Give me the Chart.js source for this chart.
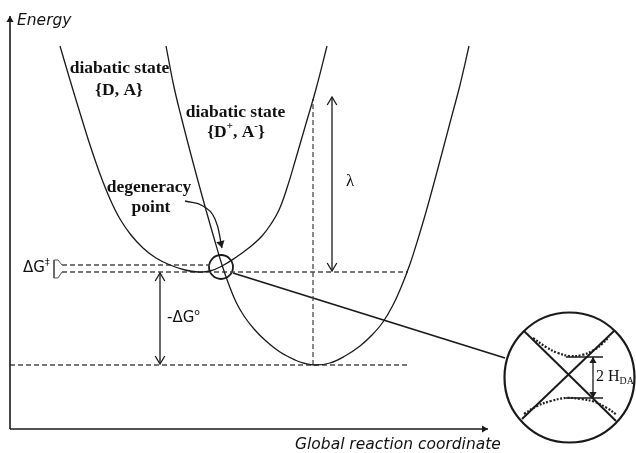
<!DOCTYPE html>
<html><head><meta charset="utf-8">
<script src="https://cdn.jsdelivr.net/npm/chart.js@4/dist/chart.umd.min.js"></script>
<style>html,body{margin:0;padding:0;background:#fff}canvas{display:block}</style>
</head><body>
<canvas id="c" width="636" height="453"></canvas>
<script>
// ---- values (Q = reaction coordinate, E = energy) ----
const stateDA_Q = [50,60,70,80,90,100,110,121,133,146,160,175,188,200,212,225,240,252,261,269,277,286,295,306,317];
const stateDA_E = [383,349,316,284,255,230,210,194,181,171,164,159,157,158,163,171,182,193,205,219,241,271,302,340,383];
const stateCT_Q = [156,164,172,180,188,196,204,212,219,226,234,244,256,270,285,295,305,320,335,350,362,373,383,392,400,408,416,424,432,441,450,459];
const stateCT_E = [383,342,309,278,248,219,191,164,144,127,113,100,88,77,69,65.5,64,66,73,83,94,107,124,144,165,190,217,246,276,310,344,383];

const E_cross = 164, E_minDA = 157, E_minCT = 64, E_lambdaTop = 330;
const Q_cross = 211, Q_minCT = 303, Q_lambda = 322, Q_dG0 = 150;
const Q_dashStart = 52, Q_dashUpperEnd = 200, Q_dashLowerEnd = 398, Q_dashBottomEnd = 400;
const Q_axisEnd = 478, E_axisEnd = 413;

const degArrow_Q = [175,193,205,212];
const degArrow_E = [228,223,210,181];
const bracket_Q = [52,48,44,44,48,52];
const bracket_E = [164,169,169,151,151,157];

const link_Q = [223,495], link_E = [156,71];
const inset_Q = 559.5, inset_E = 51.5;
const insetX1_Q = [514,606], insetX1_E = [98,8];
const insetX2_Q = [604,512], insetX2_E = [98,10];
const upperAdi_Q = [523,536,548,560,572,584,592,599];
const upperAdi_E = [91,82,76,73,74,79,85,92];
const lowerAdi_Q = [514,527,541,556,571,585,597,607];
const lowerAdi_E = [15,23,28,31,30,27,21,14];
const hda_Q = [556,593], hda_upperE = 72, hda_lowerE = 31, hda_arrowQ = 583;

const zip = (qs, es) => qs.map((q,i)=>({x:q, y:es[i]}));
const seg = (q1,e1,q2,e2) => [{x:q1,y:e1},{x:q2,y:e2}];

const INK = '#1a1a1a', DASH = '#4a4a4a';
const solid = (data, w, extra) => Object.assign({data, showLine:true, pointRadius:0, borderColor:INK, borderWidth:w, fill:false, clip:false, tension:0}, extra||{});
const dashed = (data) => ({data, showLine:true, pointRadius:0, borderColor:DASH, borderWidth:1.3, borderDash:[5,3], fill:false, clip:false});

const datasets = [
  solid(seg(0,0,0,E_axisEnd), 1.6, {arrowEnd:'filled', arrowSize:6}),
  solid(seg(0,0,Q_axisEnd,0), 1.6, {arrowEnd:'filled', arrowSize:6}),
  solid(zip(stateDA_Q, stateDA_E), 1.3, {tension:0.4}),
  solid(zip(stateCT_Q, stateCT_E), 1.3, {tension:0.4}),
  dashed(seg(Q_dashStart,E_cross,Q_dashUpperEnd,E_cross)),
  dashed(seg(Q_dashStart,E_minDA,Q_dashLowerEnd,E_minDA)),
  dashed(seg(0,E_minCT,Q_dashBottomEnd,E_minCT)),
  dashed(seg(Q_minCT,E_minCT,Q_minCT,E_lambdaTop)),
  Object.assign(solid(zip(bracket_Q, bracket_E), 1.0), {borderColor:'#555'}),
  solid(seg(Q_lambda,E_minDA+1,Q_lambda,E_lambdaTop+2), 1.3, {arrowStart:'open', arrowEnd:'open', arrowSize:8}),
  solid(seg(Q_dG0,E_minDA-1,Q_dG0,E_minCT+1), 1.3, {arrowStart:'open', arrowEnd:'open', arrowSize:8}),
  solid(zip(degArrow_Q, degArrow_E), 1.3, {tension:0.45, arrowEnd:'filled', arrowSize:7}),
  {data:[{x:Q_cross,y:E_cross-2}], showLine:false, pointRadius:12, pointBorderWidth:1.8, pointBorderColor:INK, pointBackgroundColor:'rgba(0,0,0,0)', clip:false},
  solid(zip(link_Q, link_E), 1.8),
  {data:[{x:inset_Q,y:inset_E}], showLine:false, pointRadius:65, pointBorderWidth:2.2, pointBorderColor:INK, pointBackgroundColor:'rgba(0,0,0,0)', clip:false},
  solid(zip(insetX1_Q, insetX1_E), 2.0),
  solid(zip(insetX2_Q, insetX2_E), 2.0),
  Object.assign(solid(zip(upperAdi_Q, upperAdi_E), 2.2, {tension:0.4}), {borderDash:[2,1.6], borderColor:'#222'}),
  Object.assign(solid(zip(lowerAdi_Q, lowerAdi_E), 2.2, {tension:0.4}), {borderDash:[2,1.6], borderColor:'#222'}),
  solid(seg(hda_Q[0],hda_upperE,hda_Q[1],hda_upperE), 1.6),
  solid(seg(hda_Q[0],hda_lowerE,hda_Q[1],hda_lowerE), 1.6),
  solid(seg(hda_arrowQ,(hda_upperE+hda_lowerE)/2,hda_arrowQ,hda_upperE), 1.3, {arrowEnd:'filled', arrowSize:6}),
  solid(seg(hda_arrowQ,(hda_upperE+hda_lowerE)/2,hda_arrowQ,hda_lowerE), 1.3, {arrowEnd:'filled', arrowSize:6})
];

// text annotations (anchor in data units)
const SERIF_B = 'bold 17.5px "Liberation Serif", "Times New Roman", serif';
const SANS_I = 'italic 15.5px "DejaVu Sans", Verdana, sans-serif';
const SANS = '15px "DejaVu Sans", Verdana, sans-serif';
const annotations = [
  {q:7, e:408, align:'left', font:SANS_I, segs:[{t:'Energy'}]},
  {q:285, e:-16, align:'left', font:SANS_I, segs:[{t:'Global reaction coordinate'}]},
  {q:13, e:161, align:'left', font:SANS, segs:[{t:'ΔG'},{t:'‡', sup:true}]},
  {q:157, e:111, align:'left', font:SANS, segs:[{t:'-ΔG'},{t:'o', sup:true}]},
  {q:340, e:247, align:'center', font:'17px "Liberation Serif", serif', segs:[{t:'λ'}]},
  {q:109.5, e:361, align:'center', font:SERIF_B, segs:[{t:'diabatic state'}]},
  {q:109, e:339, align:'center', font:SERIF_B, segs:[{t:'{D, A}'}]},
  {q:225.5, e:317, align:'center', font:SERIF_B, segs:[{t:'diabatic state'}]},
  {q:226, e:297, align:'center', font:SERIF_B, segs:[{t:'{D'},{t:'+',sup:true},{t:', A'},{t:'-',sup:true},{t:'}'}]},
  {q:139, e:242, align:'center', font:SERIF_B, segs:[{t:'degeneracy'}]},
  {q:141, e:222, align:'center', font:SERIF_B, segs:[{t:'point'}]},
  {q:586, e:52, align:'left', font:'16px "Liberation Serif", serif', segs:[{t:'2 H'},{t:'DA', sub:true}]}
];

function head(ctx, from, to, kind, color, size){
  const ang = Math.atan2(to.y-from.y, to.x-from.x);
  const L = size, W = size*0.6;
  ctx.save();
  ctx.strokeStyle = color; ctx.fillStyle = color; ctx.lineWidth = 1.3;
  ctx.translate(to.x, to.y); ctx.rotate(ang);
  ctx.beginPath(); ctx.moveTo(-L,-W); ctx.lineTo(0,0); ctx.lineTo(-L,W);
  if (kind === 'filled'){ ctx.closePath(); ctx.fill(); } else ctx.stroke();
  ctx.restore();
}

const arrowPlugin = {
  id:'arrows',
  afterDatasetsDraw(chart){
    const ctx = chart.ctx;
    chart.data.datasets.forEach((ds,i)=>{
      if (!ds.arrowEnd && !ds.arrowStart) return;
      const pts = chart.getDatasetMeta(i).data;
      const n = pts.length;
      if (ds.arrowEnd){
        const last = pts[n-1];
        const from = (ds.tension && last.cp1x !== undefined) ? {x:last.cp1x, y:last.cp1y} : pts[n-2];
        head(ctx, from, last, ds.arrowEnd, ds.borderColor, ds.arrowSize);
      }
      if (ds.arrowStart){
        const first = pts[0];
        const from = (ds.tension && first.cp2x !== undefined) ? {x:first.cp2x, y:first.cp2y} : pts[1];
        head(ctx, from, first, ds.arrowStart, ds.borderColor, ds.arrowSize);
      }
    });
  }
};

const textPlugin = {
  id:'texts',
  afterDatasetsDraw(chart){
    const ctx = chart.ctx, xs = chart.scales.x, ys = chart.scales.y;
    annotations.forEach(a=>{
      const px = xs.getPixelForValue(a.q), py = ys.getPixelForValue(a.e);
      ctx.save();
      ctx.fillStyle = '#111';
      ctx.textBaseline = 'middle';
      const m = /(\d+(?:\.\d+)?)px/.exec(a.font); const fs = parseFloat(m[1]);
      const small = a.font.replace(/(\d+(?:\.\d+)?)px/, (fs*0.62).toFixed(1)+'px');
      const widths = a.segs.map(s=>{ ctx.font = (s.sup||s.sub) ? small : a.font; return ctx.measureText(s.t).width; });
      const total = widths.reduce((p,c)=>p+c,0);
      let x = a.align === 'center' ? px - total/2 : px;
      a.segs.forEach((s,k)=>{
        ctx.font = (s.sup||s.sub) ? small : a.font;
        const dy = s.sup ? -fs*0.35 : (s.sub ? fs*0.3 : 0);
        ctx.textAlign = 'left';
        ctx.fillText(s.t, x, py+dy);
        x += widths[k];
      });
      ctx.restore();
    });
  }
};

new Chart(document.getElementById('c'), {
  type:'scatter',
  data:{datasets},
  options:{
    responsive:false, animation:false, devicePixelRatio:1, events:[],
    layout:{padding:0, autoPadding:false},
    plugins:{legend:{display:false}, tooltip:{enabled:false}},
    scales:{
      x:{type:'linear', min:-10, max:626, display:false},
      y:{type:'linear', min:-24, max:429, display:false}
    }
  },
  plugins:[arrowPlugin, textPlugin]
});
</script>
</body></html>
